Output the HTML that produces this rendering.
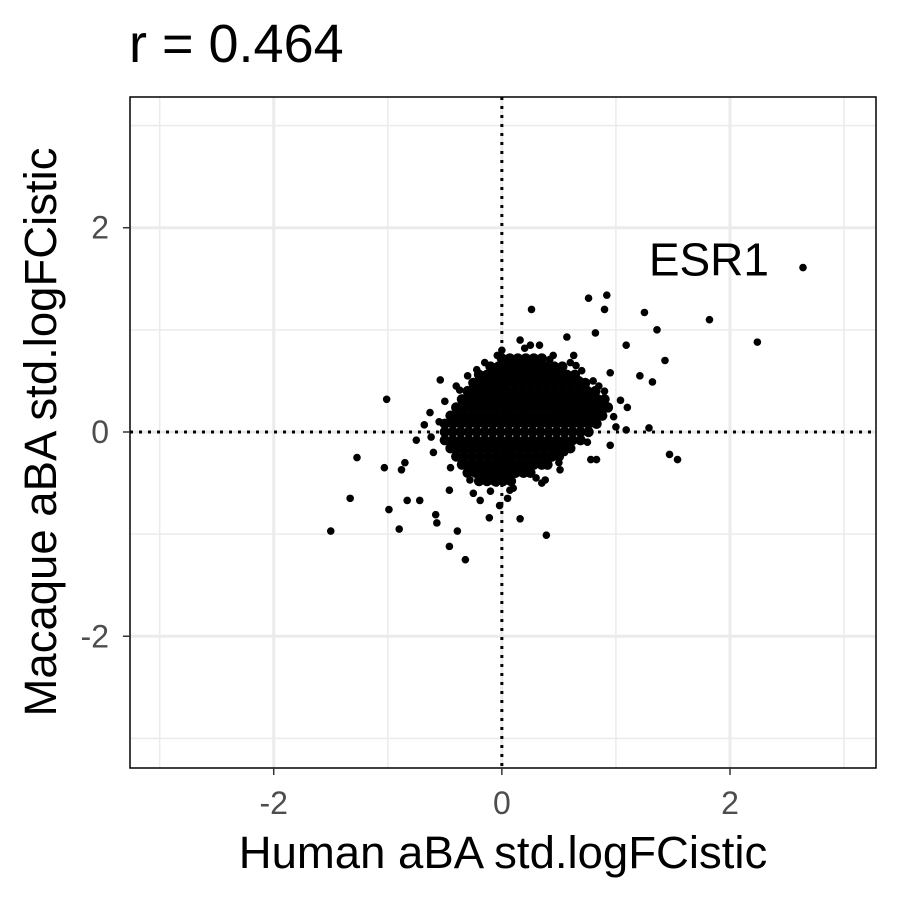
<!DOCTYPE html>
<html><head><meta charset="utf-8"><style>
html,body{margin:0;padding:0;background:#fff;}
svg{display:block;font-family:"Liberation Sans",Arial,sans-serif;}
</style></head><body>
<svg id="chart" width="900" height="900" viewBox="0 0 900 900">
<rect width="900" height="900" fill="#fff"/>
<text x="129" y="62" font-size="54" fill="#000">r = 0.464</text>
<g id="grid"></g>
<g id="refs"></g>
<g id="pts"></g>
<rect x="130" y="97" width="746" height="671" fill="none" stroke="#000" stroke-width="1.5"/>
<g id="ticks"></g>
<text x="503" y="868" font-size="45.5" text-anchor="middle" fill="#000">Human aBA std.logFCistic</text>
<text transform="translate(56,432) rotate(-90)" font-size="45.5" text-anchor="middle" fill="#000">Macaque aBA std.logFCistic</text>
</svg>
<script>
const majorTicks=[-2,0,2];
const minorTicks=[-3,-1,1,3];
const tickLabels=["-2","0","2"];
const outX=[-1.50,-1.33,-1.27,-1.01,-1.03,-0.99,-0.90,-0.85,-0.54,-0.32,-0.46,-0.39,-0.57,-0.11,0.16,0.39,0.26,-0.04,0.76,0.92,0.90,1.25,1.36,1.43,1.32,1.21,1.82,2.24,2.64,1.47,1.54,1.29,1.09,1.10,0.83,0.78,0.95,0.16,0.33,0.57,0.82,1.09,0.63,0.95,-0.22,-0.37,-0.63,-0.68,-0.75,-0.88,-0.83,-0.72,-0.58,-0.19,-0.02,0.07,0.38,0.51,0.86,1.04,0.68,0.42,-0.28,-0.46,
-0.6,-0.55,-0.62,-0.5,-0.4,-0.3,-0.15,0.0,0.2,0.45,0.6,0.7,0.8,0.9,0.98,1.0,0.75,0.5,0.3,0.1,-0.1,-0.25,-0.45,0.55,0.65,0.85,0.05,0.35,-0.05,0.25];
const outY=[-0.97,-0.65,-0.25,0.32,-0.35,-0.76,-0.95,-0.30,0.51,-1.25,-1.12,-0.97,-0.89,-0.84,-0.85,-1.01,1.20,0.75,1.31,1.34,1.20,1.17,1.00,0.70,0.49,0.55,1.10,0.88,1.61,-0.22,-0.27,0.04,0.02,0.24,-0.27,-0.27,-0.13,0.90,0.85,0.93,0.97,0.85,0.75,0.58,0.61,0.41,0.19,0.07,-0.08,-0.37,-0.67,-0.67,-0.81,-0.67,-0.72,-0.57,-0.47,-0.37,0.31,0.31,0.51,0.71,-0.47,-0.57,
-0.2,0.1,-0.05,0.3,0.45,0.55,0.68,0.8,0.82,0.75,0.68,0.6,0.5,0.4,0.15,0.05,-0.1,-0.3,-0.45,-0.55,-0.58,-0.6,-0.35,-0.2,0.65,0.45,-0.65,-0.5,-0.5,0.85];
const coreRows=[
"0.72:0 .07 .14 .21 .28 .35",
"0.64:-.1 -.03 .04 .11 .18 .25 .32 .39 .46 .53",
"0.56:-.2 -.13 -.06 .01 .08 .15 .22 .29 .36 .43 .5 .57 .64",
"0.48:-.25 -.18 -.11 -.04 .03 .1 .17 .24 .31 .38 .45 .52 .59 .66 .73",
"0.40:-.3 -.23 -.16 -.09 -.02 .05 .12 .19 .26 .33 .4 .47 .54 .61 .68 .75 .82",
"0.32:-.35 -.28 -.21 -.14 -.07 0 .07 .14 .21 .28 .35 .42 .49 .56 .63 .7 .77 .84 .9",
"0.24:-.4 -.33 -.26 -.19 -.12 -.05 .02 .09 .16 .23 .3 .37 .44 .51 .58 .65 .72 .79 .86 .93",
"0.16:-.45 -.38 -.31 -.24 -.17 -.1 -.03 .04 .11 .18 .25 .32 .39 .46 .53 .6 .67 .74 .81 .88",
"0.08:-.5 -.43 -.36 -.29 -.22 -.15 -.08 -.01 .06 .13 .2 .27 .34 .41 .48 .55 .62 .69 .76 .83",
"0:-.5 -.43 -.36 -.29 -.22 -.15 -.08 -.01 .06 .13 .2 .27 .34 .41 .48 .55 .62 .69 .76",
"-0.08:-.5 -.43 -.36 -.29 -.22 -.15 -.08 -.01 .06 .13 .2 .27 .34 .41 .48 .55 .62 .69",
"-0.16:-.45 -.38 -.31 -.24 -.17 -.1 -.03 .04 .11 .18 .25 .32 .39 .46 .53 .6",
"-0.24:-.4 -.33 -.26 -.19 -.12 -.05 .02 .09 .16 .23 .3 .37 .44 .5",
"-0.32:-.35 -.28 -.21 -.14 -.07 0 .07 .14 .21 .28 .35 .4",
"-0.40:-.3 -.23 -.16 -.09 -.02 .05 .12 .19 .25",
"-0.48:-.2 -.13 -.06 .01 .08"];
const labelGene="ESR1", labelX=2.64, labelY=1.61;

const NS="http://www.w3.org/2000/svg";
const X0=130,X1=876,Y0=97,Y1=768;
const xmin=-3.26,xmax=3.28,ymin=-3.29,ymax=3.28;
const sx=v=>X0+(v-xmin)/(xmax-xmin)*(X1-X0);
const sy=v=>Y1-(v-ymin)/(ymax-ymin)*(Y1-Y0);
function mk(t,a,p){const e=document.createElementNS(NS,t);for(const k in a)e.setAttribute(k,a[k]);p.appendChild(e);return e;}
const grid=document.getElementById('grid');
minorTicks.forEach(v=>{
 let l=mk('line',{x1:sx(v),x2:sx(v),y1:Y0,y2:Y1,stroke:'#ebebeb','stroke-width':1.5},grid);
 
 
 l=mk('line',{y1:sy(v),y2:sy(v),x1:X0,x2:X1,stroke:'#ebebeb','stroke-width':1.5},grid);
 
 
});
majorTicks.forEach(v=>{
 let l=mk('line',{x1:sx(v),x2:sx(v),y1:Y0,y2:Y1,stroke:'#ebebeb','stroke-width':3},grid);
 
 
 l=mk('line',{y1:sy(v),y2:sy(v),x1:X0,x2:X1,stroke:'#ebebeb','stroke-width':3},grid);
 
 
});
const refs=document.getElementById('refs');
let r1=mk('line',{x1:sx(0),x2:sx(0),y1:Y0,y2:Y1,stroke:'#000','stroke-width':3,'stroke-dasharray':'3 6'},refs);


let r2=mk('line',{y1:sy(0),y2:sy(0),x1:X0,x2:X1,stroke:'#000','stroke-width':3,'stroke-dasharray':'3 6'},refs);


const pts=document.getElementById('pts');
coreRows.forEach(row=>{
 const [ys,xs]=row.split(':');const y=parseFloat(ys);
 xs.trim().split(/\s+/).forEach(xv=>{
  const c=mk('circle',{cx:sx(parseFloat(xv)),cy:sy(y),r:5.2,fill:'#000'},pts);
  
  
 });
});
outX.forEach((x,i)=>{
 const c=mk('circle',{cx:sx(x),cy:sy(outY[i]),r:3.8,fill:'#000'},pts);
 
 
});
const lab=mk('text',{x:sx(labelX)-34,y:sy(labelY)+8,'font-size':46,'text-anchor':'end',fill:'#000'},pts);
lab.textContent=labelGene;


const ticks=document.getElementById('ticks');
majorTicks.forEach((v,i)=>{
 let l=mk('line',{x1:sx(v),x2:sx(v),y1:Y1,y2:Y1+7,stroke:'#333','stroke-width':1.5},ticks);
 
 
 let t=mk('text',{x:sx(v),y:Y1+46,'font-size':32,'text-anchor':'middle',fill:'#4d4d4d'},ticks);
 t.textContent=tickLabels[i];
 
 
 l=mk('line',{y1:sy(v),y2:sy(v),x1:X0-7,x2:X0,stroke:'#333','stroke-width':1.5},ticks);
 
 
 t=mk('text',{x:X0-21,y:sy(v)+11,'font-size':32,'text-anchor':'end',fill:'#4d4d4d'},ticks);
 t.textContent=tickLabels[i];
 
 
});
</script>
</body></html>
